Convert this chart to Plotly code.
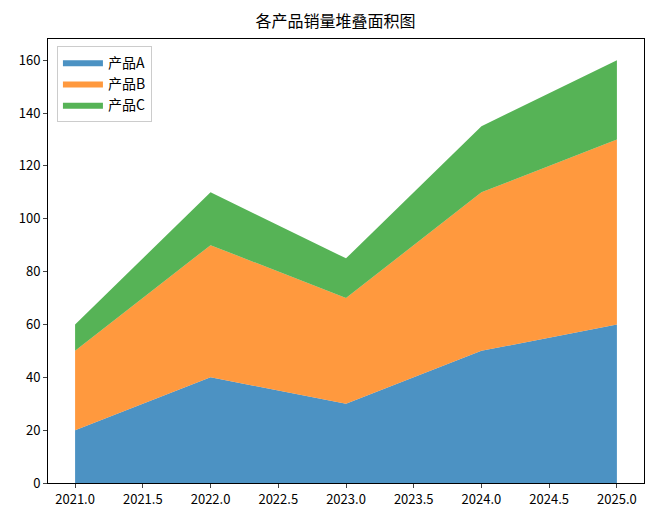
import plotly.graph_objects as go

years = [2021, 2022, 2023, 2024, 2025]
product_a = [20, 40, 30, 50, 60]
product_b = [30, 50, 40, 60, 70]
product_c = [10, 20, 15, 25, 30]
names = ["产品A", "产品B", "产品C"]
colors = ["rgba(31,119,180,0.8)", "rgba(255,127,14,0.8)", "rgba(44,160,44,0.8)"]

FONT = "Noto Sans CJK SC, SimHei, sans-serif"

fig = go.Figure()
for name, vals, color in zip(names, [product_a, product_b, product_c], colors):
    fig.add_trace(
        go.Scatter(
            x=years,
            y=vals,
            name=name,
            mode="lines",
            stackgroup="one",
            line=dict(width=0, color=color),
            fillcolor=color,
        )
    )

fig.update_layout(
    width=655,
    height=524,
    title=dict(
        text="各产品销量堆叠面积图",
        x=0.5,
        xanchor="center",
        y=0.975,
        yanchor="middle",
        font=dict(size=16, color="black"),
    ),
    font=dict(family=FONT, size=13, color="black"),
    paper_bgcolor="white",
    plot_bgcolor="white",
    margin=dict(l=40, r=19, t=31, b=49),
    showlegend=True,
    legend=dict(
        x=0.015,
        y=0.985,
        xanchor="left",
        yanchor="top",
        bordercolor="#cccccc",
        borderwidth=1,
        bgcolor="rgba(255,255,255,0.8)",
        traceorder="normal",
        font=dict(size=14),
        itemwidth=40,
    ),
)
fig.update_xaxes(
    range=[2020.8, 2025.2],
    tickmode="array",
    tickvals=[2021, 2021.5, 2022, 2022.5, 2023, 2023.5, 2024, 2024.5, 2025],
    tickformat=".1f",
    ticks="outside",
    ticklen=4,
    showgrid=False,
    zeroline=False,
    showline=True,
    linecolor="black",
    linewidth=1,
    mirror=True,
)
fig.update_yaxes(
    range=[0, 168],
    dtick=20,
    ticks="outside",
    ticklen=4,
    showgrid=False,
    zeroline=False,
    showline=True,
    linecolor="black",
    linewidth=1,
    mirror=True,
)

fig.write_html("out.html")
